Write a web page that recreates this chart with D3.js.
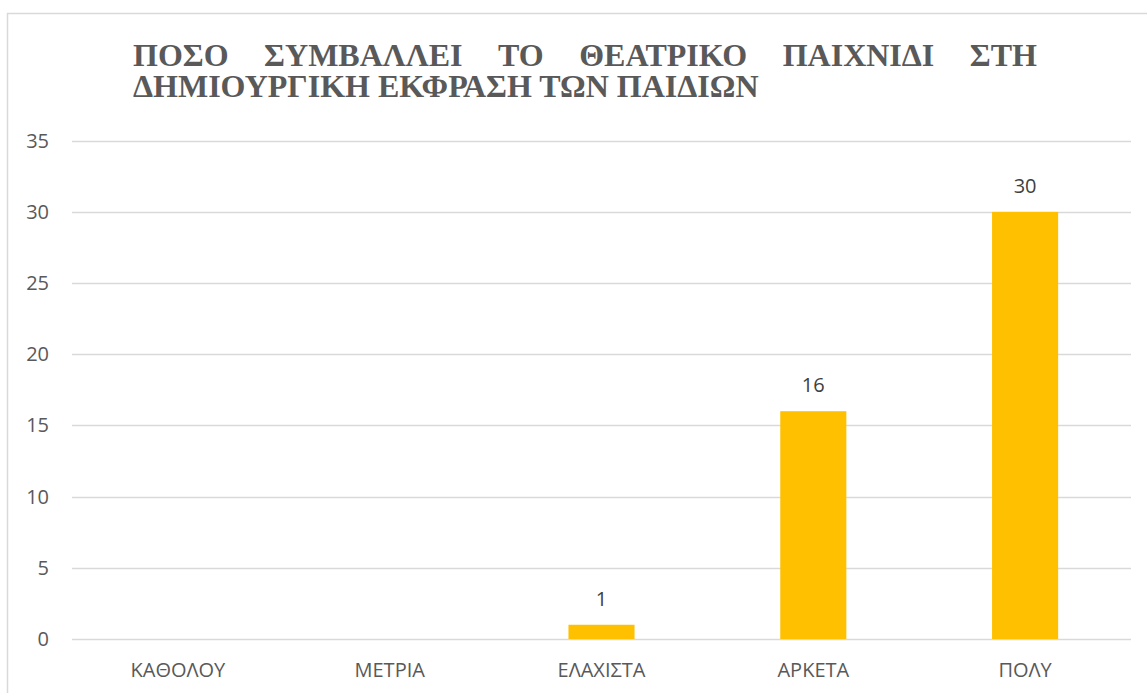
<!DOCTYPE html>
<html>
<head>
<meta charset="utf-8">
<script src="https://cdn.jsdelivr.net/npm/d3@7"></script>
<style>
  body { margin: 0; background: #fff; }
  svg { display: block; }
</style>
</head>
<body>
<svg id="chart" width="1147" height="693"></svg>
<script>
// categories and values
var categories = ["ΚΑΘΟΛΟΥ", "ΜΕΤΡΙΑ", "ΕΛΑΧΙΣΤΑ", "ΑΡΚΕΤΑ", "ΠΟΛΥ"];
var values = [0, 0, 1, 16, 30];
var yTicks = [0, 5, 10, 15, 20, 25, 30, 35];
var titleLines = ["ΠΟΣΟ ΣΥΜΒΑΛΛΕΙ ΤΟ ΘΕΑΤΡΙΚΟ ΠΑΙΧΝΙΔΙ ΣΤΗ", "ΔΗΜΙΟΥΡΓΙΚΗ ΕΚΦΡΑΣΗ ΤΩΝ ΠΑΙΔΙΩΝ"];

var svg = d3.select("#chart");
var plotL = 72, plotR = 1131, plotT = 140.7, plotB = 639;
var sans = "'Open Sans', 'Noto Sans', sans-serif";
var fs = 20;

// chart frame
svg.append("rect")
	.attr("x", 7.5).attr("y", 13.5)
	.attr("width", 1300).attr("height", 800)
	.attr("fill", "none").attr("stroke", "#d9d9d9").attr("stroke-width", 1.5);

var x = d3.scaleBand().domain(categories).range([plotL, plotR]).padding(0);
var y = d3.scaleLinear().domain([0, 35]).range([plotB, plotT]);
var barW = x.bandwidth() * 0.312;

// gridlines
svg.append("g").selectAll("line").data(yTicks).enter().append("line")
	.attr("x1", plotL).attr("x2", plotR)
	.attr("y1", function(d){ return Math.round(y(d)) + 0.5; })
	.attr("y2", function(d){ return Math.round(y(d)) + 0.5; })
	.attr("stroke", "#d9d9d9").attr("stroke-width", 1.5);

// y axis labels
var yAxis = d3.axisLeft(y).tickValues(yTicks).tickSize(0).tickPadding(0);
var ya = svg.append("g").attr("transform", "translate(49,0)").call(yAxis);
ya.select(".domain").remove();
ya.selectAll("text")
	.attr("font-family", sans).attr("font-size", fs).attr("fill", "#595959");

// x axis labels
var xAxis = d3.axisBottom(x).tickSize(0).tickPadding(0);
var xa = svg.append("g").attr("transform", "translate(0," + (plotB + 24) + ")").call(xAxis);
xa.select(".domain").remove();
xa.selectAll("text")
	.attr("font-family", sans).attr("font-size", fs).attr("fill", "#595959");

// bars
svg.append("g").selectAll("rect").data(values).enter().append("rect")
	.attr("x", function(d,i){ return x(categories[i]) + x.bandwidth()/2 - barW/2; })
	.attr("y", function(d){ return y(d); })
	.attr("width", barW)
	.attr("height", function(d){ return y(0) - y(d); })
	.attr("fill", "#ffc000");

// value labels (only for non-zero bars, as in the picture)
svg.append("g").selectAll("text").data(values).enter()
	.filter(function(d){ return d > 0; })
	.append("text")
	.attr("x", function(d){ return x(categories[values.indexOf(d)]) + x.bandwidth()/2; })
	.attr("y", function(d){ return y(d) - 19; })
	.attr("text-anchor", "middle")
	.attr("font-family", sans).attr("font-size", fs).attr("fill", "#404040")
	.text(function(d){ return d; });

// title: first line justified between 133 and 1037
var title = svg.append("g")
	.attr("font-family", "'Liberation Serif', 'Times New Roman', serif")
	.attr("font-weight", "bold").attr("font-size", 32).attr("fill", "#595959");

var words = titleLines[0].split(" ");
var wt = words.map(function(w){
	return title.append("text").attr("y", 66).text(w);
});
var widths = wt.map(function(t){ return t.node().getComputedTextLength(); });
var gap = (1037 - 133 - d3.sum(widths)) / (words.length - 1);
var cx = 133;
wt.forEach(function(t, i){
	t.attr("x", cx);
	cx += widths[i] + gap;
});

title.append("text").attr("x", 133).attr("y", 97).text(titleLines[1]);
</script>
</body>
</html>
